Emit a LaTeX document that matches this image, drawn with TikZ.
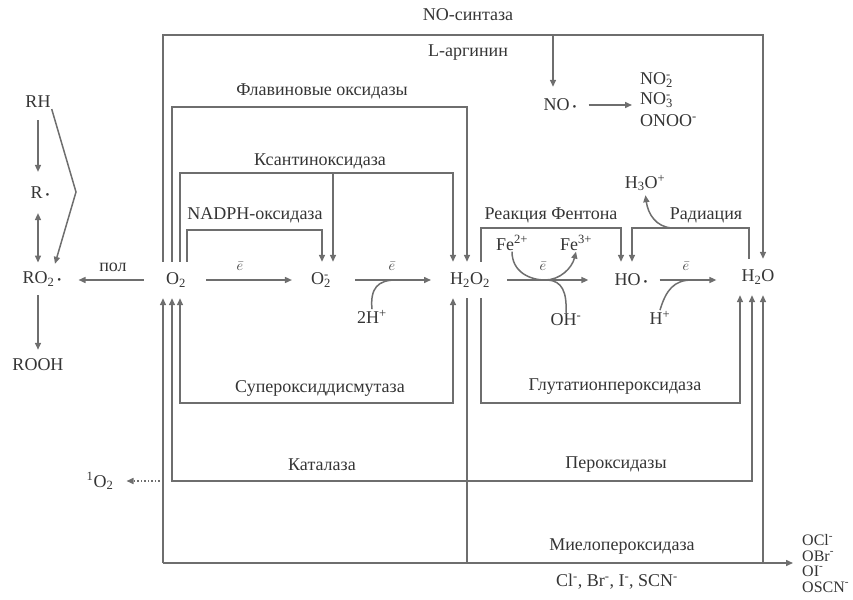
\documentclass[tikz,border=0pt]{standalone}
\usepackage{fontspec}
\setmainfont{Liberation Serif}
\usetikzlibrary{arrows.meta,calc,positioning}
\definecolor{inkgray}{HTML}{353535}
\definecolor{wiregray}{HTML}{6E6E6E}
\newcommand{\chsub}[1]{\textsubscript{#1}}
\newcommand{\chsup}[1]{\textsuperscript{#1}}
\newcommand{\chion}[2]{\rlap{\textsubscript{#1}}\textsuperscript{#2}}
\newcommand{\chrad}{\,{\fontsize{11}{11}\selectfont\textbullet}}
\newcommand{\chel}{{\fontsize{15}{15}\selectfont$\bar{e}$}}

\begin{document}
\begin{tikzpicture}[x=1pt, y=-1pt,
    every node/.style={font=\fontsize{18}{20}\selectfont, text=inkgray, inner sep=1pt},
    sp/.style={minimum height=36pt, inner sep=0pt},
    prod/.style={anchor=west, inner sep=0pt, font=\fontsize{16}{16}\selectfont},
    wire/.style={draw=wiregray, line width=1.5pt},
    arr/.style={wire, -{Triangle[length=7pt,width=6pt]}},
    both/.style={wire, {Triangle[length=7pt,width=6pt]}-{Triangle[length=7pt,width=6pt]}}]

    \useasboundingbox (0,0) rectangle (853,599);

    % species on the main line
    \node[sp] (O2)   at (176,280) {O\chsub{2}};
    \node[sp] (O2m)  at (320,280) {O\chion{2}{-}};
    \node[sp] (H2O2) at (470,280) {H\chsub{2}O\chsub{2}};
    \node[sp] (HO)   at (631,280) {HO\chrad};
    \node[sp] (H2O)  at (758,277) {H\chsub{2}O};
    \node[sp] (NO)   at (560,105) {NO\chrad};

    % lipid chain
    \node (RH)   at (38,102) {RH};
    \node (R)    at (40,193) {R\chrad};
    \node (RO2)  at (42,279) {RO\chsub{2}\chrad};
    \node (ROOH) at (38,365) {ROOH};

    % side species
    \node (NO2)  at (640,80)  [anchor=west, inner sep=0pt] {NO\chion{2}{-}};
    \node (NO3)  at (640,100) [anchor=west, inner sep=0pt] {NO\chion{3}{-}};
    \node (ONOO) at (640,121) [anchor=west, inner sep=0pt] {ONOO\chsup{-}};
    \node (H3O)  at (645,183) {H\chsub{3}O\chsup{+}};
    \node (Fe2)  at (512,243) {Fe\chsup{2+}};
    \node (Fe3)  at (576,243) {Fe\chsup{3+}};
    \node (OH)   at (566,320) {OH\chsup{-}};
    \node (Hp)   at (660,318) {H\chsup{+}};
    \node (twoH) at (372,317) {2H\chsup{+}};
    \node (sO)   at (100,481) {\chsup{1}O\chsub{2}};
    \node[prod] (OCl)  at (802,540) {OCl\chsup{-}};
    \node[prod] (OBr)  at (802,556) {OBr\chsup{-}};
    \node[prod] (OI)   at (802,571) {OI\chsup{-}};
    \node[prod] (OSCN) at (802,587) {OSCN\chsup{-}};
    \node (anion) at (617,582) {Cl\chsup{-}, Br\chsup{-}, I\chsup{-}, SCN\chsup{-}};

    % enzyme labels
    \node (nos)   at (468,15)  {NO-синтаза};
    \node (arg)   at (468,53)  {L-аргинин};
    \node (flav)  at (322,91)  {Флавиновые оксидазы};
    \node (xan)   at (320,161) {Ксантиноксидаза};
    \node (nadph) at (255,215) {NADPH-оксидаза};
    \node (sod)   at (320,388) {Супероксиддисмутаза};
    \node (fent)  at (551,215) {Реакция Фентона};
    \node (radi)  at (706,215) {Радиация};
    \node (gpx)   at (615,387) {Глутатионпероксидаза};
    \node (cat)   at (322,465) {Каталаза};
    \node (perox) at (616,465) {Пероксидазы};
    \node (mpo)   at (622,547) {Миелопероксидаза};
    \node (pol)   at (113,267) {пол};

    % main line
    \draw[arr, shorten <=20pt, shorten >=19pt] (O2.east) -- (O2m.west);
    \node at (240,266) {\chel};
    \draw[arr, shorten <=26pt, shorten >=19pt] (O2m.east) -- (H2O2.west);
    \node at (392,266) {\chel};
    \draw[wire] (twoH.north) .. controls (370,288) and (378,280) .. (396,280);
    \draw[arr, shorten <=17pt, shorten >=26pt] (H2O2.east) -- (HO.west);
    \node at (543,266) {\chel};
    \draw[arr] (Fe2.south) .. controls (512,272) and (530,280) .. (545,280)
        .. controls (560,280) and (572,268) .. (Fe3.south);
    \draw[wire] (548,280) .. controls (562,281) and (567,292) .. (OH.north);
    \draw[arr, shorten <=12pt, shorten >=25pt] (HO.east) -- (HO.east -| H2O.west);
    \node at (686,266) {\chel};
    \draw[wire] (Hp.north) .. controls (666,290) and (674,280) .. (692,280);
    \draw[arr, shorten <=22pt, shorten >=16pt] (O2.west) -- (O2.west -| RO2.east);

    % lipid chain
    \draw[arr, shorten <=11pt, shorten >=14pt] (RH.south) -- (RH.south |- R.north);
    \draw[both, shorten <=13pt, shorten >=8pt] (RH.south |- R.south) -- (RH.south |- RO2.north);
    \draw[arr, shorten <=8pt, shorten >=8pt] (RH.south |- RO2.south) -- (ROOH.north);
    \draw[arr, shorten >=7pt] (RH.south east) -- (76,192) -- ([xshift=11pt]RO2.north);

    % NO-synthase
    \coordinate (nsyn) at (553,35);
    \draw[arr] ([xshift=-13pt]O2.north) -- ++(0,-227) -| ([xshift=5pt]H2O.north);
    \draw[arr] (nsyn) -- (nsyn |- NO.north);
    \draw[arr, shorten <=12pt, shorten >=8pt] (NO.east) -- (NO.east -| NO3.west);

    % oxidases above O2
    \coordinate (xo) at (333,173);
    \draw[arr] ([xshift=-4pt]O2.north) -- ++(0,-155) -| ([xshift=-3pt]H2O2.north);
    \draw[arr] ([xshift=4pt]O2.north) -- ++(0,-89) -| ([xshift=-17pt]H2O2.north);
    \draw[arr] (xo) -- (xo |- O2m.north);
    \draw[arr] ([xshift=11pt]O2.north) -- ++(0,-32) -| ([xshift=2pt]O2m.north);

    % Fenton and radiation
    \draw[arr] ([xshift=11pt]H2O2.north) -- ++(0,-34) -| ([xshift=-10pt]HO.north);
    \coordinate (radc) at (672,228);
    \draw[arr] ([xshift=-9pt]H2O.north) -- ++(0,-31) -| ([xshift=1pt]HO.north);
    \draw[arr, shorten >=3pt] (radc) .. controls (656,227) and (648,214) .. (H3O.south);

    % dismutase, catalase, peroxidases
    \draw[both] ([xshift=4pt]O2.south) -- ++(0,105) -| ([xshift=-17pt]H2O2.south);
    \draw[both] ([xshift=-4pt]O2.south) -- ++(0,183) -| ([xshift=-6pt]H2O.south);
    \draw[arr] ([xshift=11pt]H2O2.south) -- ++(0,105) -| ([xshift=-18pt]H2O.south);
    \coordinate (catO) at (163,481);
    \draw[wire, dotted, -{Triangle[length=7pt,width=6pt]}, shorten >=12pt] (catO) -- (sO);

    % myeloperoxidase
    \coordinate (mpoL) at (163,563);
    \coordinate (mpoW) at (763,563);
    \coordinate (mpoR) at (793,563);
    \draw[wire] ([xshift=-3pt]H2O2.south) -- ++(0,265);
    \draw[arr] (mpoL) -- ([xshift=-13pt]O2.south);
    \draw[arr] (mpoL) -- (mpoR);
    \draw[arr] (mpoW) -- ([xshift=5pt]H2O.south);
\end{tikzpicture}
\end{document}
